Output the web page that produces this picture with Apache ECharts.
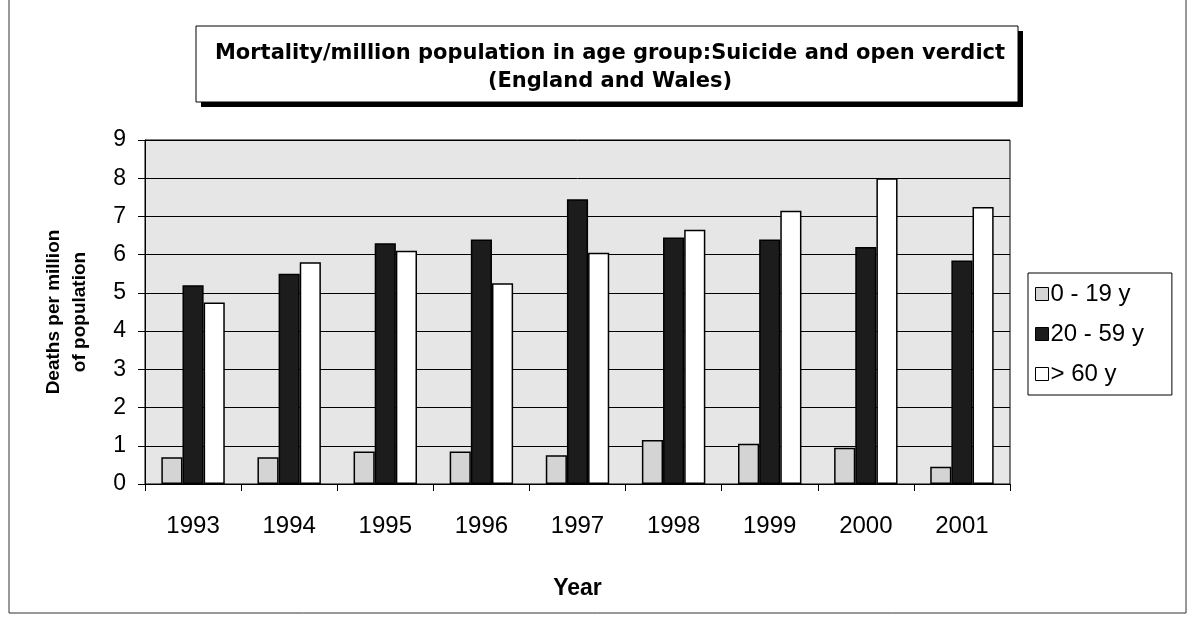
<!DOCTYPE html>
<html>
<head>
<meta charset="utf-8">
<script src="https://cdn.jsdelivr.net/npm/echarts@6/dist/echarts.min.js"></script>
<style>
html,body{margin:0;padding:0;background:#fff;}
#chart{width:1194px;height:639px;}
</style>
</head>
<body>
<div id="chart"></div>
<script>
const years = ['1993','1994','1995','1996','1997','1998','1999','2000','2001'];
const age0to19 = [0.7, 0.7, 0.85, 0.85, 0.75, 1.15, 1.05, 0.95, 0.45];
const age20to59 = [5.2, 5.5, 6.3, 6.4, 7.45, 6.45, 6.4, 6.2, 5.85];
const age60plus = [4.75, 5.8, 6.1, 5.25, 6.05, 6.65, 7.15, 8.0, 7.25];
const seriesNames = ['0 - 19 y', '20 - 59 y', '> 60 y'];
const yTicks = [0, 9, 1]; // min, max, interval

const chart = echarts.init(document.getElementById('chart'));
const FONT = '"Liberation Sans", Arial, sans-serif';
const WIDE = '"DejaVu Sans", "Liberation Sans", sans-serif';
const barStyle = (c) => ({ color: c, borderColor: '#000', borderWidth: 1.5 });

chart.setOption({
  animation: false,
  backgroundColor: '#fff',
  textStyle: { fontFamily: FONT, color: '#000' },
  graphic: [
    { type: 'rect', shape: { x: 9, y: -5, width: 1177, height: 618 },
      style: { fill: 'none', stroke: '#333', lineWidth: 1 }, z: -10 },
    { type: 'rect', shape: { x: 201, y: 31, width: 822, height: 76 },
      style: { fill: '#000' }, z: 5 },
    { type: 'rect', shape: { x: 196, y: 26, width: 822, height: 76 },
      style: { fill: '#fff', stroke: '#000', lineWidth: 1 }, z: 6 }
  ],
  title: {
    text: 'Mortality/million population in age group:Suicide and open verdict\n(England and Wales)',
    left: 605, top: 35, textAlign: 'center', z: 10,
    textStyle: { fontFamily: WIDE, fontWeight: 'bold', fontSize: 21, lineHeight: 28, color: '#000' }
  },
  legend: {
    orient: 'vertical',
    left: 1028, top: 273,
    padding: [9, 28, 9, 7],
    itemWidth: 13, itemHeight: 13, itemGap: 16,
    borderColor: '#000', borderWidth: 1,
    icon: 'rect',
    itemStyle: { borderColor: '#000', borderWidth: 1 },
    textStyle: { fontFamily: FONT, fontSize: 24, color: '#000', padding: [0, 0, 0, -3] },
    data: seriesNames
  },
  grid: {
    left: 145, right: 184, top: 140, bottom: 155,
    show: true, backgroundColor: '#e6e6e6', borderColor: '#000', borderWidth: 1
  },
  xAxis: {
    type: 'category',
    data: years,
    name: 'Year', nameLocation: 'middle', nameGap: 93,
    nameTextStyle: { fontFamily: FONT, fontWeight: 'bold', fontSize: 23, color: '#000' },
    axisLine: { lineStyle: { color: '#000', width: 1 } },
    axisTick: { show: true, alignWithLabel: false, length: 7, lineStyle: { color: '#000' } },
    axisLabel: { fontFamily: FONT, fontSize: 24, color: '#000', margin: 30 }
  },
  yAxis: {
    type: 'value',
    min: yTicks[0], max: yTicks[1], interval: yTicks[2],
    name: 'Deaths per million\nof population', nameLocation: 'middle', nameGap: 52,
    nameTextStyle: { fontFamily: FONT, fontWeight: 'bold', fontSize: 19, lineHeight: 26, color: '#000' },
    axisLine: { show: true, lineStyle: { color: '#000', width: 1 } },
    axisTick: { show: true, length: 7, lineStyle: { color: '#000' } },
    axisLabel: { fontFamily: FONT, fontSize: 23, color: '#000', margin: 19 },
    splitLine: { show: true, lineStyle: { color: '#000', width: 1 } }
  },
  series: [
    { name: seriesNames[0], type: 'bar', data: age0to19, barGap: '0%', barCategoryGap: '34%',
      itemStyle: barStyle('#d4d4d4') },
    { name: seriesNames[1], type: 'bar', data: age20to59, barGap: '0%', barCategoryGap: '34%',
      itemStyle: barStyle('#1c1c1c') },
    { name: seriesNames[2], type: 'bar', data: age60plus, barGap: '0%', barCategoryGap: '34%',
      itemStyle: barStyle('#ffffff') }
  ]
});
</script>
</body>
</html>
